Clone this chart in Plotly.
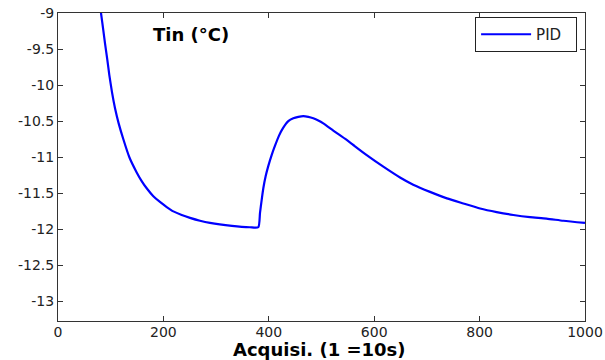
import plotly.graph_objects as go

# Data
acq = [78, 81.6, 86.0, 89.2, 93.6, 97.4, 102.5, 108.2, 115.1, 124.0, 135.4, 149.3, 158.8,
       168.3, 180.9, 193.5, 206.3, 218.9, 234.7, 250.5, 269.4, 288.4, 330, 364, 380,
       383.3, 386.5, 389.6, 394.1, 399.1, 405.4, 411.8, 419.4, 427.5, 437.0, 446.5,
       456.0, 465.5, 475.0, 484.4, 493.9, 503.4, 522.4, 547.8, 560.4, 585.8, 617.3, 649,
       674, 705.9, 738, 769.1, 801, 832.4, 864, 895.6, 927, 958.8, 1000]
tin = [-8.80, -9.00, -9.24, -9.42, -9.65, -9.86, -10.10, -10.32, -10.53, -10.75, -11.00,
       -11.21, -11.33, -11.43, -11.54, -11.62, -11.69, -11.75, -11.80, -11.84, -11.88,
       -11.91, -11.95, -11.97, -11.97,
       -11.77, -11.59, -11.43, -11.26, -11.12, -10.97, -10.84, -10.70, -10.59, -10.50,
       -10.46, -10.44, -10.43, -10.44, -10.46, -10.49, -10.53, -10.63, -10.76, -10.83,
       -10.97, -11.13, -11.28, -11.38, -11.48, -11.57, -11.64, -11.71, -11.76, -11.80,
       -11.83, -11.85, -11.88, -11.91]

x_ticks = [0, 200, 400, 600, 800, 1000]
x_tick_text = ["0", "200", "400", "600", "800", "1000"]
y_ticks = [-13, -12.5, -12, -11.5, -11, -10.5, -10, -9.5, -9]
y_tick_text = ["-13", "-12.5", "-12", "-11.5", "-11", "-10.5", "-10", "-9.5", "-9"]

series_name = "PID"
title_text = "Tin (°C)"
xlabel = "Acquisi. (1 =10s)"

fig = go.Figure()
fig.add_trace(go.Scatter(x=acq, y=tin, mode="lines", name=series_name + "\u00a0\u00a0",
                         line=dict(color="#0000ff", width=2.2, shape="spline", smoothing=0.6)))

axis_common = dict(showline=True, linecolor="#333333", linewidth=1, mirror="ticks",
                   ticks="inside", ticklen=5, tickcolor="#333333", showgrid=False,
                   zeroline=False, automargin=False,
                   tickfont=dict(family="DejaVu Sans", size=14, color="#222222"))

fig.update_layout(
    width=605, height=360,
    margin=dict(l=58, r=20, t=13, b=39),
    paper_bgcolor="white", plot_bgcolor="white",
    xaxis=dict(range=[0, 1000], tickvals=x_ticks, ticktext=x_tick_text,
               ticklabelstandoff=-2, **axis_common),
    yaxis=dict(range=[-13.27, -9], tickvals=y_ticks, ticktext=y_tick_text, **axis_common),
    showlegend=True,
    legend=dict(x=0.985, y=0.987, xanchor="right", yanchor="top", itemwidth=50,
                bordercolor="#222222", borderwidth=1, bgcolor="white",
                font=dict(family="DejaVu Sans", size=15, color="#222222")),
    annotations=[
        dict(text=title_text, xref="paper", yref="paper", x=0.253, y=0.929,
             showarrow=False, xanchor="center", yanchor="middle",
             font=dict(family="DejaVu Sans", size=18, color="black", weight="bold")),
        dict(text=xlabel, xref="paper", yref="paper", x=0.497, y=-0.092,
             showarrow=False, xanchor="center", yanchor="middle",
             font=dict(family="DejaVu Sans", size=18, color="black", weight="bold")),
    ],
)

fig.write_html("out.html")
